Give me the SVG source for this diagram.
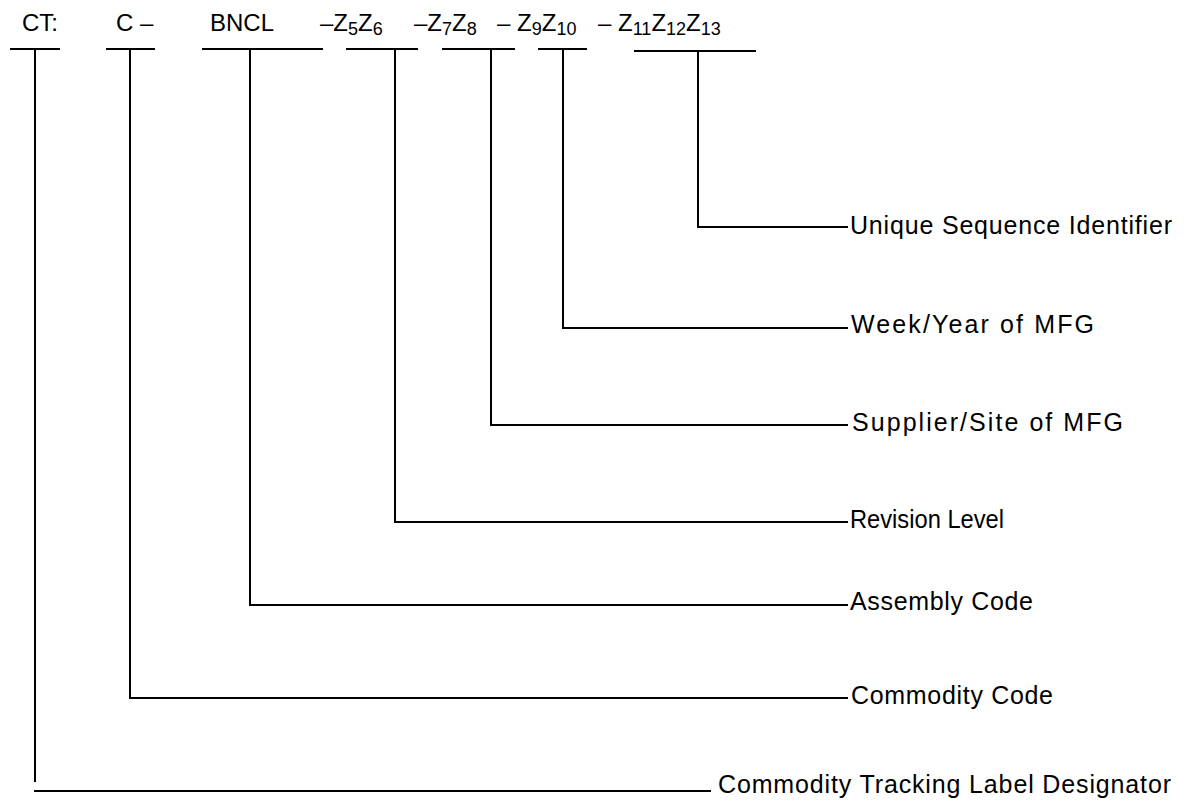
<svg xmlns="http://www.w3.org/2000/svg" width="1191" height="801" viewBox="0 0 1191 801">
<style>
.t{font-family:"Liberation Sans",Arial,sans-serif;font-size:25px;fill:#000}
.h{font-family:"Liberation Sans",Arial,sans-serif;font-size:24px;fill:#000}
.s{font-size:18px}
.l{fill:none;stroke:#000;stroke-width:2}
</style>
<rect width="1191" height="801" fill="#fff"/>
<g id="header">
<text class="h" x="22" y="31">CT:</text>
<text class="h" x="116" y="31">C –</text>
<text class="h" x="210" y="31">BNCL</text>
<text class="h" x="320" y="31">–Z<tspan class="s" dy="4">5</tspan><tspan dy="-4">Z</tspan><tspan class="s" dy="4">6</tspan></text>
<text class="h" x="414" y="31">–Z<tspan class="s" dy="4">7</tspan><tspan dy="-4">Z</tspan><tspan class="s" dy="4">8</tspan></text>
<text class="h" x="497" y="31">– Z<tspan class="s" dy="4">9</tspan><tspan dy="-4">Z</tspan><tspan class="s" dy="4">10</tspan></text>
<text class="h" x="598" y="31">– Z<tspan class="s" dy="4">11</tspan><tspan dy="-4">Z</tspan><tspan class="s" dy="4">12</tspan><tspan dy="-4">Z</tspan><tspan class="s" dy="4">13</tspan></text>
</g>
<g id="connectors">
<path class="l" d="M10 49H60M35 49V782M34 791H711"/>
<path class="l" d="M106 49H155M130 49V698H848"/>
<path class="l" d="M202 49H323M250 49V605H848"/>
<path class="l" d="M346 49H418M395 49V522H848"/>
<path class="l" d="M442 49H515M491 49V425H848"/>
<path class="l" d="M538 49H587M563 49V328H848"/>
<path class="l" d="M634 51H756M698 51V227H848"/>
</g>
<g id="unique"><text class="t" x="850" y="234" textLength="322">Unique Sequence Identifier</text></g>
<g id="week"><text class="t" x="851" y="333" textLength="243">Week/Year of MFG</text></g>
<g id="supplier"><text class="t" x="852" y="431" textLength="271">Supplier/Site of MFG</text></g>
<g id="revision"><text class="t" x="850" y="528" textLength="154" lengthAdjust="spacingAndGlyphs">Revision Level</text></g>
<g id="assembly"><text class="t" x="850" y="610" textLength="183">Assembly Code</text></g>
<g id="commodity"><text class="t" x="851" y="704" textLength="202">Commodity Code</text></g>
<g id="ctld"><text class="t" x="718" y="793" textLength="453">Commodity Tracking Label Designator</text></g>
</svg>
